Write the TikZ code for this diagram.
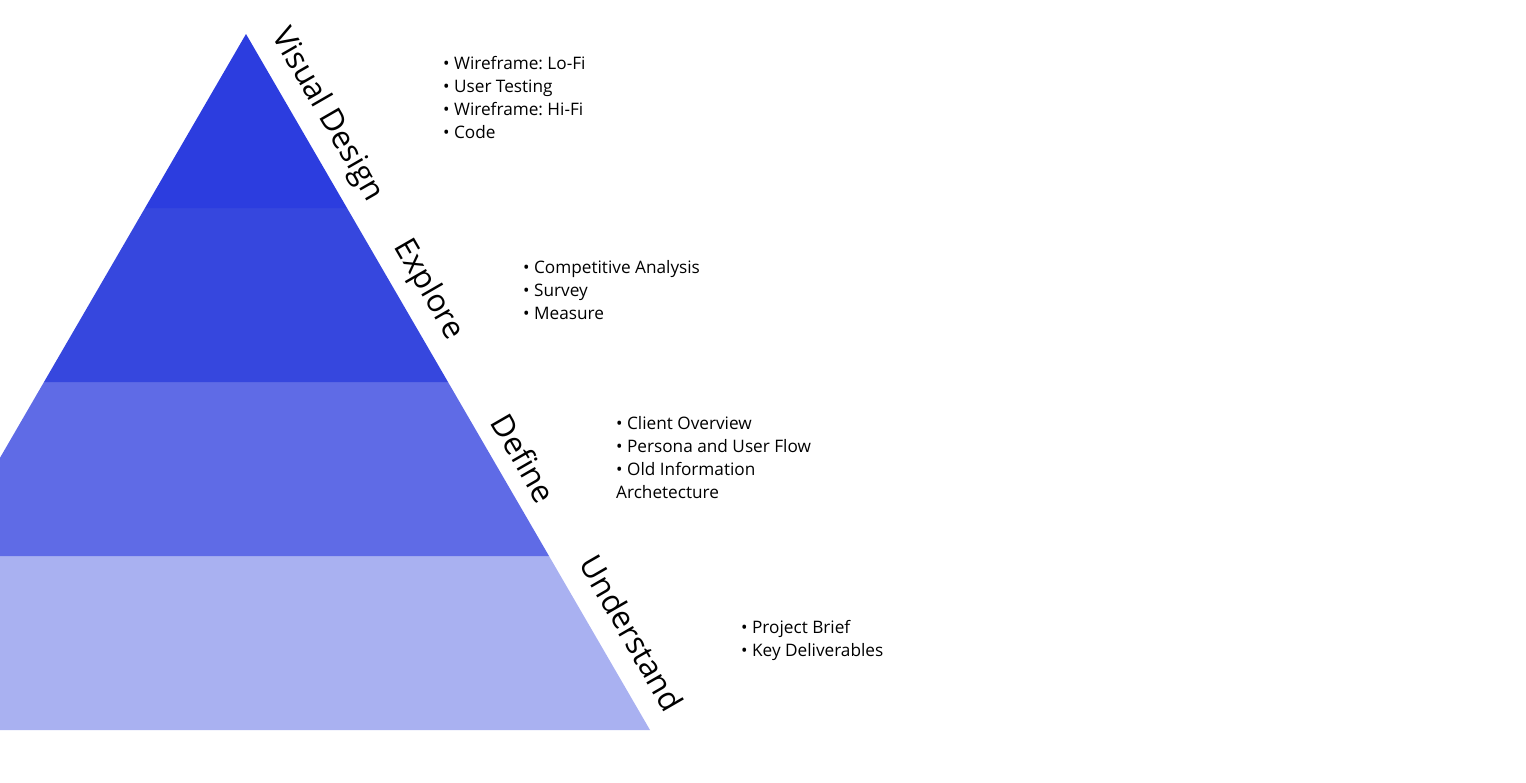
\documentclass[tikz,border=0pt]{standalone}
\usepackage{fontspec}
\setmainfont{Open Sans}
\frenchspacing
\definecolor{tierA}{HTML}{2C3DDF}
\definecolor{tierB}{HTML}{3647DE}
\definecolor{tierC}{HTML}{5F6BE6}
\definecolor{tierD}{HTML}{A9B1F1}
\begin{document}
\begin{tikzpicture}[x=1pt,y=-1pt,
  stage/.style={font=\fontsize{31.3}{36}\selectfont, rotate=-60, inner sep=0pt},
  items/.style={font=\fontsize{17.2}{23}\selectfont, align=left, anchor=north west, inner sep=0pt}]
\useasboundingbox (0,0) rectangle (1526,782);
\clip (0,0) rectangle (1526,782);

% pyramid tiers, from the base upwards
\fill[tierD] (-158,730) -- (650,730) -- (549,556) -- (-57,556) -- cycle;
\fill[tierC] (-57,556) -- (549,556) -- (448,382) -- (44,382) -- cycle;
\fill[tierB] (44,382) -- (448,382) -- (347,208) -- (145,208) -- cycle;
\fill[tierA] (145,208) -- (347,208) -- (246,34) -- cycle;

% stage names along the right edge
\node[stage] (visual) at (327,115) {Visual Design};
\node[stage] (explore) at (428,290) {Explore};
\node[stage] (define) at (524,458) {Define};
\node[stage] (understand) at (632,633) {Understand};

% activities for each stage (strut fixes the first baseline 20pt below the top)
\node[items] (visualitems) at (443,49) {\rule{0pt}{20pt}• Wireframe: Lo-Fi\\• User Testing\\• Wireframe: Hi-Fi\\• Code};
\node[items] (exploreitems) at (523,253) {\rule{0pt}{20pt}• Competitive Analysis\\• Survey\\• Measure};
\node[items] (defineitems) at (616,409) {\rule{0pt}{20pt}• Client Overview\\• Persona and User Flow\\• Old Information\\Archetecture};
\node[items] (understanditems) at (741,613.5) {\rule{0pt}{20pt}• Project Brief\\• Key Deliverables};
\end{tikzpicture}
\end{document}
